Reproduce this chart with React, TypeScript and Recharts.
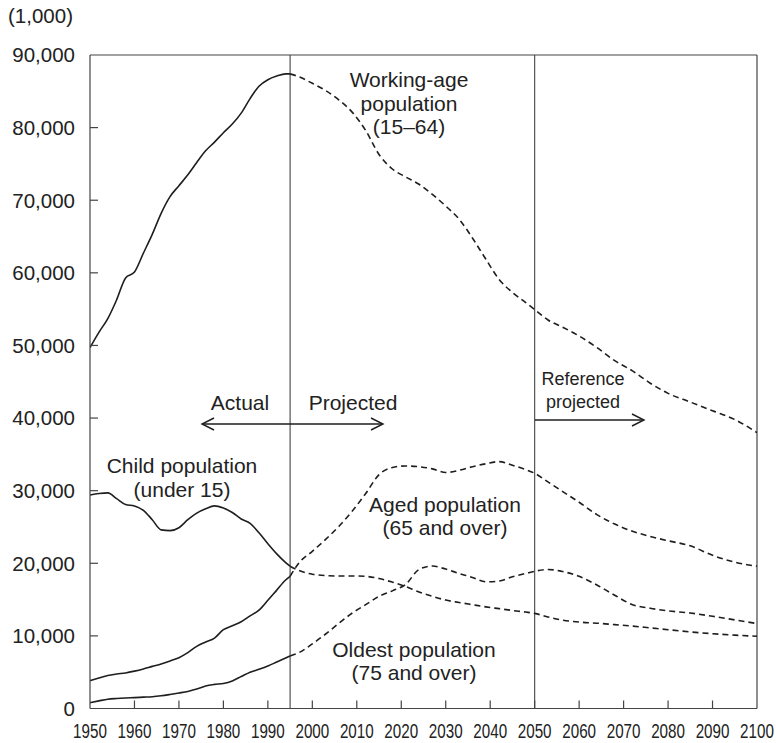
import { LineChart, Line, XAxis, YAxis, ReferenceLine } from 'recharts';

// population by age group, thousands of persons
const actualYears = [
  1950, 1952, 1954, 1956, 1958, 1960, 1962, 1964, 1966, 1968, 1970, 1972,
  1974, 1976, 1978, 1980, 1982, 1984, 1986, 1988, 1990, 1992, 1994, 1995,
];
const workingActual = [
  49700, 51800, 53700, 56300, 59300, 60100, 62700, 65300, 68200, 70500, 72000, 73500,
  75200, 76800, 78000, 79300, 80500, 82000, 84000, 85700, 86600, 87100, 87400, 87400,
];
const childActual = [
  29400, 29600, 29700, 28900, 28100, 27900, 27300, 26000, 24600, 24500, 24900, 26000,
  26900, 27500, 27900, 27600, 27000, 26100, 25500, 24200, 22700, 21300, 20100, 19600,
];
const agedActual = [
  3830, 4200, 4550, 4750, 4900, 5150, 5450, 5800, 6130, 6550, 7000, 7700,
  8550, 9150, 9700, 10850, 11400, 11950, 12750, 13550, 14900, 16300, 17700, 18200,
];
const oldestActual = [
  800, 1050, 1280, 1380, 1450, 1500, 1560, 1620, 1750, 1930, 2130, 2350,
  2680, 3100, 3320, 3450, 3800, 4400, 5000, 5400, 5850, 6400, 6950, 7230,
];

const projectedYears = [
  1995, 1997, 2000, 2003, 2006, 2009, 2012, 2015, 2018, 2021, 2024, 2027, 2030, 2033, 2036, 2039,
  2042, 2045, 2048, 2050, 2053, 2056, 2060, 2064, 2068, 2072, 2076, 2080, 2085, 2090, 2095, 2100,
];
const workingProjected = [
  87400, 87000, 86100, 85100, 83800, 82100, 79600, 76300, 74300, 73200, 72200, 70800, 69200, 67400, 64800, 61900,
  59100, 57300, 55900, 54950, 53500, 52600, 51300, 49700, 47900, 46500, 44800, 43400, 42200, 41000, 39800, 38000,
];
const childProjected = [
  19600, 19000, 18500, 18300, 18250, 18250, 18200, 17900, 17400, 16800, 16050, 15450, 14930, 14600, 14300, 14000,
  13750, 13500, 13280, 13100, 12600, 12200, 11900, 11750, 11550, 11350, 11100, 10850, 10550, 10300, 10100, 9950,
];
const agedProjected = [
  18200, 20060, 21650, 23300, 25100, 27200, 29600, 32200, 33200, 33400, 33300, 33000, 32500, 32800, 33300, 33700,
  34000, 33500, 32900, 32400, 31200, 30000, 28400, 26700, 25400, 24400, 23700, 23100, 22400, 21100, 20150, 19600,
];
const oldestProjected = [
  7230, 7700, 8900, 10260, 11750, 13150, 14300, 15450, 16200, 17100, 19150, 19620, 19200, 18600, 18050, 17450,
  17550, 18150, 18600, 18900, 19150, 18900, 18200, 17000, 15600, 14300, 13800, 13450, 13150, 12700, 12200, 11700,
];

const xTicks = [1950, 1960, 1970, 1980, 1990, 2000, 2010, 2020, 2030, 2040, 2050, 2060, 2070, 2080, 2090, 2100];
const yTicks = [0, 10000, 20000, 30000, 40000, 50000, 60000, 70000, 80000, 90000];

const actualRows = actualYears.map((year, i) => ({
  year,
  working: workingActual[i],
  child: childActual[i],
  aged: agedActual[i],
  oldest: oldestActual[i],
}));
const projectedRows = projectedYears.map((year, i) => ({
  year,
  working: workingProjected[i],
  child: childProjected[i],
  aged: agedProjected[i],
  oldest: oldestProjected[i],
}));

const INK = '#1e1e1e';
const FRAME = '#444';
const FONT = '"Liberation Sans", Arial, sans-serif';
const keys = ['working', 'child', 'aged', 'oldest'];

function XTick({ x, y, payload }: any) {
  const edge = payload.value === 1950 || payload.value === 2100;
  return (
    <g>
      {!edge && <line x1={x} x2={x} y1={y} y2={y - 8} stroke={FRAME} strokeWidth={1.2} />}
      <g transform={`translate(${x},${y + 29.5}) scale(0.78,1)`}>
        <text textAnchor="middle" fontSize={19.5} fill="#222" fontFamily={FONT}>
          {payload.value}
        </text>
      </g>
    </g>
  );
}

function YTick({ x, y, payload }: any) {
  return (
    <g>
      {payload.value !== 0 && payload.value !== 90000 && (
        <line x1={x} x2={x + 8} y1={y} y2={y} stroke={FRAME} strokeWidth={1.2} />
      )}
      <text x={x - 15} y={y} dy="0.36em" textAnchor="end" fontSize={20.5} fill="#222" fontFamily={FONT}>
        {payload.value.toLocaleString('en-US')}
      </text>
    </g>
  );
}

function Arrowhead({ x, y, dir }: { x: number; y: number; dir: 1 | -1 }) {
  return (
    <polyline
      points={`${x - dir * 12},${y - 6} ${x},${y} ${x - dir * 12},${y + 6}`}
      fill="none"
      stroke={INK}
      strokeWidth={1.4}
    />
  );
}

export default function App() {
  const txt = { fontSize: 21, fill: '#222', fontFamily: FONT, textAnchor: 'middle' as const };
  return (
    <div style={{ position: 'absolute', left: 0, top: 0, width: 776, height: 743, background: '#fff' }}>
      <LineChart width={776} height={743} margin={{ top: 55, right: 19, left: 0, bottom: 0 }}>
        <XAxis
          dataKey="year"
          type="number"
          domain={[1950, 2100]}
          ticks={xTicks}
          tickSize={0}
          tickMargin={0}
          height={34.5}
          tick={<XTick />}
          axisLine={{ stroke: FRAME, strokeWidth: 1.2 }}
          tickLine={false}
          allowDataOverflow
        />
        <YAxis
          type="number"
          domain={[0, 90000]}
          ticks={yTicks}
          tickSize={0}
          tickMargin={0}
          width={90}
          tick={<YTick />}
          axisLine={{ stroke: FRAME, strokeWidth: 1.2 }}
          tickLine={false}
          allowDataOverflow
        />
        <ReferenceLine y={90000} stroke={FRAME} strokeWidth={1.2} />
        <ReferenceLine x={2100} stroke={FRAME} strokeWidth={1.2} />
        <ReferenceLine x={1995} stroke={FRAME} strokeWidth={1.1} />
        <ReferenceLine x={2050} stroke={FRAME} strokeWidth={1.1} />
        {keys.map((k) => (
          <Line
            key={`a-${k}`}
            data={actualRows}
            dataKey={k}
            type="monotone"
            stroke={INK}
            strokeWidth={1.6}
            dot={false}
            activeDot={false}
            isAnimationActive={false}
          />
        ))}
        {keys.map((k) => (
          <Line
            key={`p-${k}`}
            data={projectedRows}
            dataKey={k}
            type="monotone"
            stroke={INK}
            strokeWidth={1.6}
            strokeDasharray="6 4"
            dot={false}
            activeDot={false}
            isAnimationActive={false}
          />
        ))}
      </LineChart>
      <svg
        width={776}
        height={743}
        style={{ position: 'absolute', left: 0, top: 0, pointerEvents: 'none' }}
      >
        <text x={8} y={23} fontSize={20.5} fill="#222" fontFamily={FONT}>
          (1,000)
        </text>
        <text {...txt} x={409} y={87}>Working-age</text>
        <text {...txt} x={409} y={110.5}>population</text>
        <text {...txt} x={409} y={134}>(15–64)</text>

        <text {...txt} x={240} y={410}>Actual</text>
        <text {...txt} x={353} y={410}>Projected</text>
        <line x1={202} x2={383} y1={424} y2={424} stroke={INK} strokeWidth={1.4} />
        <Arrowhead x={202} y={424} dir={-1} />
        <Arrowhead x={383} y={424} dir={1} />

        <text {...txt} fontSize={18} x={583} y={385}>Reference</text>
        <text {...txt} fontSize={18} x={583} y={408}>projected</text>
        <line x1={535} x2={644} y1={420} y2={420} stroke={INK} strokeWidth={1.4} />
        <Arrowhead x={644} y={420} dir={1} />

        <text {...txt} x={182} y={473}>Child population</text>
        <text {...txt} x={182} y={497}>(under 15)</text>

        <text {...txt} x={445} y={512}>Aged population</text>
        <text {...txt} x={445} y={535}>(65 and over)</text>

        <text {...txt} x={414} y={657}>Oldest population</text>
        <text {...txt} x={414} y={680}>(75 and over)</text>
      </svg>
    </div>
  );
}
